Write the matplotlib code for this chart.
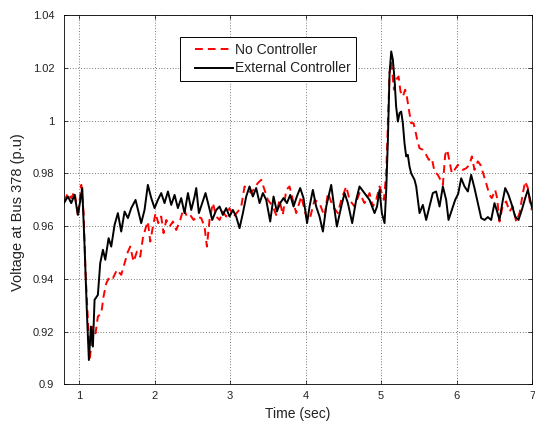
import matplotlib
matplotlib.use("Agg")
import matplotlib.pyplot as plt
from matplotlib.legend_handler import HandlerLine2D
import numpy as np

# bus voltage traces (p.u.) against time (s)
t_no_ctrl = [
    0.80, 0.852, 0.896, 0.94, 0.985, 1.029, 1.06, 1.086, 1.117, 1.139, 1.161, 1.183, 1.218,
    1.249, 1.294, 1.324, 1.36, 1.404, 1.448, 1.501, 1.558, 1.603, 1.647, 1.678, 1.722, 1.766,
    1.81, 1.845, 1.881, 1.911, 1.943, 1.978, 2.013, 2.049, 2.088, 2.119, 2.155, 2.199, 2.243,
    2.287, 2.34, 2.384, 2.428, 2.472, 2.517, 2.561, 2.618, 2.662, 2.693, 2.728, 2.773, 2.817,
    2.861, 2.905, 2.949, 2.993, 3.046, 3.104, 3.148, 3.192, 3.236, 3.28, 3.324, 3.368, 3.413,
    3.457, 3.501, 3.567, 3.611, 3.655, 3.699, 3.744, 3.788, 3.832, 3.876, 3.943, 4.009, 4.053,
    4.119, 4.185, 4.252, 4.296, 4.362, 4.428, 4.473, 4.539, 4.583, 4.649, 4.715, 4.781, 4.848,
    4.892, 4.936, 4.98, 5.038, 5.069, 5.091, 5.113, 5.135, 5.171, 5.2, 5.232, 5.258, 5.289,
    5.32, 5.342, 5.369, 5.399, 5.43, 5.452, 5.479, 5.51, 5.554, 5.598, 5.633, 5.673, 5.708,
    5.752, 5.788, 5.819, 5.85, 5.877, 5.907, 5.938, 5.974, 6.018, 6.084, 6.128, 6.172, 6.203,
    6.238, 6.282, 6.317, 6.353, 6.393, 6.437, 6.468, 6.512, 6.538, 6.569, 6.614, 6.658, 6.702,
    6.746, 6.79, 6.835, 6.879, 6.91, 6.945, 6.98, 7.0,
]
v_no_ctrl = [
    0.9693, 0.9725, 0.9706, 0.9731, 0.9636, 0.9756, 0.9649, 0.9421, 0.9244, 0.9092, 0.9143,
    0.9219, 0.9193, 0.9257, 0.9269, 0.9333, 0.9383, 0.9408, 0.9402, 0.9434, 0.9415, 0.9459,
    0.9503, 0.9522, 0.9465, 0.9503, 0.9484, 0.9554, 0.9592, 0.9617, 0.9541, 0.9598, 0.9649,
    0.9611, 0.9636, 0.9573, 0.9623, 0.9598, 0.9617, 0.9585, 0.9623, 0.9668, 0.9636, 0.9642,
    0.9623, 0.9636, 0.963, 0.9598, 0.9522, 0.9623, 0.9687, 0.9636, 0.9623, 0.9655, 0.9636,
    0.9668, 0.9636, 0.9655, 0.9674, 0.975, 0.9737, 0.9725, 0.9744, 0.9763, 0.9775, 0.9737,
    0.9699, 0.9674, 0.9642, 0.9699, 0.9642, 0.9737, 0.975, 0.9699, 0.9649, 0.9712, 0.9636,
    0.9623, 0.9699, 0.9687, 0.9636, 0.9725, 0.9674, 0.9649, 0.9699, 0.975, 0.9699, 0.9674,
    0.9725, 0.9687, 0.9725, 0.9674, 0.9699, 0.975, 0.9699, 0.98, 0.999, 1.018, 1.0224,
    1.0117, 1.0155, 1.0167, 1.011, 1.0091, 1.0117, 1.0091, 1.0041, 0.999, 0.999, 0.9965,
    0.9927, 0.9895, 0.9889, 0.987, 0.9851, 0.9857, 0.9807, 0.9794, 0.9775, 0.9756, 0.987,
    0.9889, 0.9845, 0.98, 0.9813, 0.9832, 0.9813, 0.9819, 0.9832, 0.9864, 0.9813, 0.9845,
    0.9832, 0.98, 0.9762, 0.9718, 0.9706, 0.9737, 0.9706, 0.9617, 0.968, 0.9693, 0.9655,
    0.9674, 0.9617, 0.9649, 0.9725, 0.9769, 0.9744, 0.9674, 0.966,
]

t_ext_ctrl = [
    0.80, 0.852, 0.896, 0.94, 0.985, 1.042, 1.073, 1.104, 1.13, 1.157, 1.183, 1.205, 1.249,
    1.28, 1.316, 1.347, 1.391, 1.426, 1.47, 1.514, 1.558, 1.603, 1.647, 1.691, 1.748, 1.823,
    1.867, 1.911, 1.956, 2.0, 2.044, 2.088, 2.132, 2.177, 2.221, 2.265, 2.309, 2.353, 2.397,
    2.442, 2.486, 2.53, 2.552, 2.587, 2.631, 2.675, 2.72, 2.764, 2.817, 2.861, 2.905, 2.949,
    2.993, 3.037, 3.081, 3.126, 3.17, 3.214, 3.258, 3.302, 3.346, 3.391, 3.435, 3.479, 3.532,
    3.576, 3.62, 3.664, 3.708, 3.753, 3.797, 3.841, 3.885, 3.929, 3.973, 4.02, 4.053, 4.097,
    4.141, 4.185, 4.23, 4.274, 4.34, 4.384, 4.415, 4.473, 4.517, 4.561, 4.618, 4.671, 4.715,
    4.781, 4.848, 4.914, 4.947, 4.98, 5.011, 5.047, 5.069, 5.091, 5.113, 5.135, 5.157, 5.179,
    5.2, 5.223, 5.245, 5.267, 5.289, 5.311, 5.333, 5.355, 5.377, 5.399, 5.421, 5.444, 5.466,
    5.488, 5.51, 5.554, 5.598, 5.642, 5.686, 5.73, 5.775, 5.819, 5.863, 5.894, 5.938, 5.982,
    6.022, 6.062, 6.106, 6.15, 6.194, 6.238, 6.282, 6.327, 6.371, 6.415, 6.459, 6.503, 6.538,
    6.569, 6.614, 6.645, 6.689, 6.733, 6.777, 6.821, 6.865, 6.91, 6.945, 7.0,
]
v_ext_ctrl = [
    0.9687, 0.9712, 0.9687, 0.9718, 0.9642, 0.9744, 0.9522, 0.9269, 0.9092, 0.9219, 0.9143,
    0.932, 0.9339, 0.9459, 0.951, 0.9472, 0.9554, 0.9522, 0.9604, 0.9649, 0.9579, 0.9655,
    0.963, 0.9668, 0.9699, 0.9611, 0.9661, 0.9756, 0.9706, 0.9668, 0.9699, 0.9725, 0.9687,
    0.9731, 0.968, 0.9718, 0.9668, 0.9706, 0.9649, 0.9725, 0.9661, 0.9712, 0.9744, 0.9649,
    0.9687, 0.9725, 0.9674, 0.9623, 0.9661, 0.9674, 0.9642, 0.9668, 0.9636, 0.9661, 0.9636,
    0.9592, 0.9649, 0.9712, 0.975, 0.9712, 0.9744, 0.9687, 0.9725, 0.9699, 0.9617, 0.9712,
    0.9655, 0.9687, 0.9706, 0.9687, 0.9718, 0.9674, 0.9712, 0.9744, 0.9706, 0.9611, 0.9674,
    0.9737, 0.9674, 0.9636, 0.9579, 0.9674, 0.9756, 0.9661, 0.9598, 0.9674, 0.9725, 0.9687,
    0.9611, 0.9699, 0.975, 0.9725, 0.9699, 0.9649, 0.9674, 0.9737, 0.9649, 0.9611, 0.9737,
    0.9927, 1.018, 1.0262, 1.023, 1.0155, 1.0053, 0.9996, 1.0028, 1.0034, 0.999, 0.9914,
    0.9864, 0.987, 0.9826, 0.98, 0.9788, 0.9775, 0.975, 0.9699, 0.9649, 0.968, 0.9623,
    0.9674, 0.9725, 0.9731, 0.9674, 0.975, 0.9699, 0.9623, 0.9661, 0.9699, 0.9722, 0.9781,
    0.975, 0.9731, 0.9794, 0.9744, 0.9687, 0.963, 0.9623, 0.9634, 0.9623, 0.9687, 0.9655,
    0.9623, 0.9699, 0.9744, 0.9718, 0.968, 0.9636, 0.9623, 0.9661, 0.9706, 0.9737, 0.967,
]

x_ticks = [1, 2, 3, 4, 5, 6, 7]
y_ticks = [0.9, 0.92, 0.94, 0.96, 0.98, 1.0, 1.02, 1.04]
y_ticklabels = ["0.9", "0.92", "0.94", "0.96", "0.98", "1", "1.02", "1.04"]


class InsetLine(HandlerLine2D):
    """Legend line that leaves a gap on the left of the handle box only."""

    def get_xdata(self, legend, xdescent, ydescent, width, height, fontsize):
        xdata = np.array([-xdescent + 0.7 * fontsize, -xdescent + width])
        return xdata, xdata


plt.rcParams["font.family"] = ["Liberation Sans", "DejaVu Sans"]
plt.rcParams["font.size"] = 8

fig = plt.figure(figsize=(5.35, 4.23), dpi=100)
ax = fig.add_axes([0.1196, 0.0915, 0.8748, 0.873])

red_line, = ax.plot(t_no_ctrl, v_no_ctrl, color="#ff0000", lw=1.4,
                    linestyle=(0, (4, 2.6)), label="No Controller")
blk_line, = ax.plot(t_ext_ctrl, v_ext_ctrl, color="black", lw=1.4,
                    label="External Controller")

ax.set_xlim(0.8, 7)
ax.set_ylim(0.9, 1.04)
ax.set_xticks(x_ticks)
ax.set_yticks(y_ticks)
ax.set_yticklabels(y_ticklabels)

ax.grid(True, color="black", linestyle=(0, (1, 3)), linewidth=0.5)
ax.tick_params(direction="in", top=True, right=True, length=3, width=0.5,
               labelcolor="#222222")
ax.tick_params(axis="x", pad=5)
ax.tick_params(axis="y", pad=7)
for sp in ax.spines.values():
    sp.set_linewidth(0.6)

ax.set_xlabel("Time (sec)", fontsize=10, labelpad=4, color="#222222")
ax.set_ylabel("Voltage at Bus 378 (p.u)", fontsize=10.5, color="#222222")
ax.yaxis.set_label_coords(-0.083, 0.465)

leg = ax.legend(loc="upper left", bbox_to_anchor=(180 / 535, (423 - 37) / 423),
                bbox_transform=fig.transFigure, fancybox=False, framealpha=1,
                edgecolor="black", fontsize=10, handlelength=3.4, handletextpad=0.15,
                borderpad=0.4, labelspacing=0.35, borderaxespad=0,
                handler_map={red_line: InsetLine(), blk_line: InsetLine()})
leg.get_frame().set_linewidth(0.7)
for txt in leg.get_texts():
    txt.set_color("#222222")

fig.savefig("out.png", dpi=100)
